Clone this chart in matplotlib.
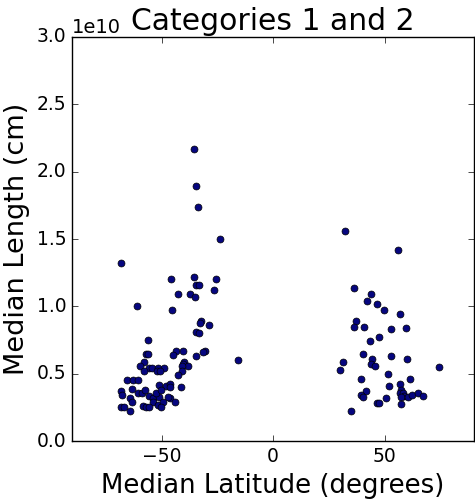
import matplotlib
matplotlib.use("Agg")
import matplotlib.pyplot as plt
import numpy as np

plt.style.use("classic")

# southern cluster (category 1): median latitude (deg), median length (1e10 cm)
lat_s = [-35.4, -34.5, -33.8, -23.9, -68.2, -45.9, -35.6, -25.8, -34.5, -33.2,
         -26.4, -42.8, -37.1, -35.0, -61.0, -45.4, -32.1, -32.9, -28.8, -34.7,
         -33.2, -56.0, -56.9, -56.0, -43.5, -40.4, -44.9, -30.6, -31.5, -34.7,
         -15.6, -57.7, -40.0, -40.4, -38.0, -40.7, -59.5, -55.4, -54.4, -51.5,
         -48.8, -58.0, -51.8, -50.5, -40.8, -42.6, -65.5, -62.6, -60.4, -41.4,
         -51.2, -47.8, -46.3, -46.0, -63.2, -68.2, -67.6, -60.4, -58.7, -57.4,
         -55.4, -54.0, -51.0, -52.3, -50.4, -46.0, -47.3, -64.1, -63.0, -44.1,
         -53.7, -51.7, -49.4, -50.2, -58.3, -56.8, -55.4, -68.2, -66.7, -64.1]
len_s = [2.17, 1.89, 1.74, 1.50, 1.32, 1.20, 1.22, 1.20, 1.16, 1.16,
         1.12, 1.09, 1.09, 1.07, 1.00, 0.97, 0.89, 0.88, 0.86, 0.81,
         0.80, 0.75, 0.65, 0.65, 0.67, 0.67, 0.64, 0.67, 0.66, 0.63,
         0.60, 0.59, 0.585, 0.575, 0.56, 0.555, 0.555, 0.54, 0.54, 0.54,
         0.54, 0.52, 0.52, 0.52, 0.52, 0.49, 0.45, 0.45, 0.45, 0.40,
         0.42, 0.41, 0.425, 0.40, 0.39, 0.37, 0.34, 0.36, 0.355, 0.38,
         0.335, 0.32, 0.33, 0.36, 0.38, 0.32, 0.33, 0.32, 0.29, 0.29,
         0.29, 0.27, 0.29, 0.25, 0.26, 0.25, 0.25, 0.25, 0.255, 0.22]

# northern cluster (category 2)
lat_n = [32.0, 55.9, 36.3, 43.7, 42.2, 46.7, 49.5, 56.8, 36.9, 36.3,
         40.7, 52.8, 59.3, 47.4, 43.5, 40.2, 44.1, 52.8, 59.8, 31.5,
         44.0, 45.5, 74.3, 30.0, 51.4, 39.3, 61.1, 52.0, 56.8, 41.7,
         39.3, 40.2, 57.2, 56.8, 58.1, 58.7, 57.2, 60.5, 62.0, 65.0,
         67.1, 50.5, 46.7, 47.4, 57.2, 34.8]
len_n = [1.56, 1.42, 1.14, 1.09, 1.04, 1.02, 0.97, 0.94, 0.89, 0.85,
         0.85, 0.83, 0.84, 0.77, 0.74, 0.65, 0.61, 0.63, 0.61, 0.59,
         0.57, 0.56, 0.55, 0.53, 0.50, 0.46, 0.46, 0.41, 0.425, 0.375,
         0.34, 0.33, 0.376, 0.354, 0.356, 0.336, 0.329, 0.324, 0.339, 0.356,
         0.332, 0.32, 0.285, 0.285, 0.275, 0.225]

lat = np.array(lat_s + lat_n)
length = np.array(len_s + len_n) * 1e10

fig = plt.figure(figsize=(4.75, 4.99), dpi=100)
ax = fig.add_axes([0.152, 0.116, 0.846, 0.81])
ax.scatter(lat, length, s=25, c="#06067f", edgecolors="k", linewidths=0.5)
ax.set_xlim(-90, 90)
ax.set_ylim(0, 3e10)
ax.set_xticks([-50, 0, 50])
ax.set_yticks(np.arange(0, 3.01e10, 0.5e10))
ax.tick_params(labelsize=13.5)
ax.yaxis.get_offset_text().set_fontsize(14)
ax.set_xlabel("Median Latitude (degrees)", fontsize=18.7)
ax.set_ylabel("Median Length (cm)", fontsize=19.5)
ax.set_title("Categories 1 and 2", fontsize=21.5)
fig.savefig("out.png", dpi=100)
